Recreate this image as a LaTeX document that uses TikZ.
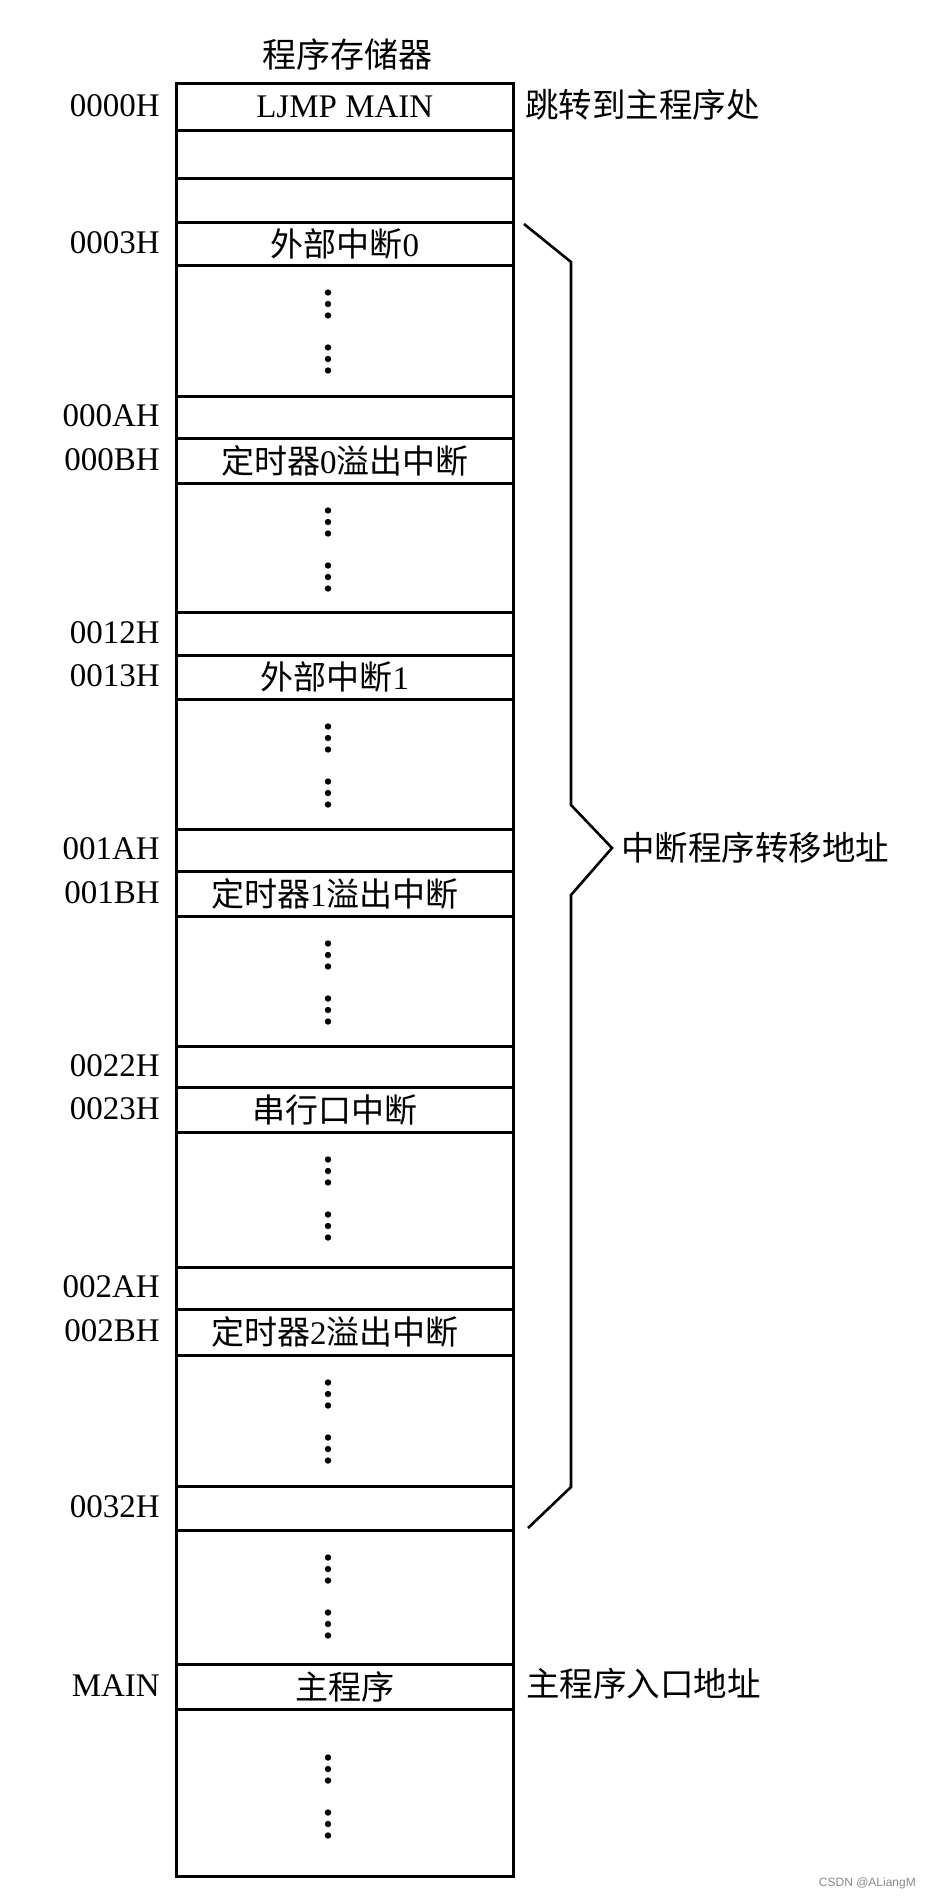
\documentclass[tikz,border=0pt]{standalone}
\usepackage{fontspec}
\setmainfont{Liberation Serif}
\newfontfamily\cjk{Noto Sans CJK SC}
\newfontfamily\wmfont{Liberation Sans}
\definecolor{wmgray}{HTML}{8A8A8A}
\newcommand\memcell[4]{%
  \node[cell, minimum height={#3-#2}] (#1) at (175,#2) {#4};%
}
\newcommand\dotgrp[2]{%
  \foreach \dd in {-11.5,0,11.5} {\fill (#1,#2+\dd) circle (3.2);}%
}
\begin{document}
\begin{tikzpicture}[x=1pt,y=-1pt,
  cell/.style={draw=black, line width=2.6pt, rectangle, inner sep=0pt,
    minimum width=337pt, anchor=north west, font=\fontsize{33}{40}\selectfont},
  addr/.style={anchor=east, inner sep=0pt, font=\fontsize{33}{40}\selectfont},
  note/.style={anchor=west, inner sep=0pt, font=\fontsize{33.5}{40}\selectfont\cjk},
  bracepath/.style={draw=black, line width=2.6pt, line join=miter},
]
\useasboundingbox (0,0) rectangle (930,1900);
\fill[white] (0,0) rectangle (930,1900);

% title
\node[inner sep=0pt, font=\fontsize{34}{40}\selectfont\cjk] (title) at (347,55) {程序存储器};

% memory cells
\memcell{c0}{82}{129}{LJMP MAIN}
\memcell{c1}{129}{177}{}
\memcell{c2}{177}{221}{}
\memcell{c3}{221}{264}{{\cjk 外部中断}0}
\memcell{c4}{264}{395}{}
\memcell{c5}{395}{437}{}
\memcell{c6}{437}{482}{{\cjk 定时器}0{\cjk 溢出中断}}
\memcell{c7}{482}{611}{}
\memcell{c8}{611}{654}{}
\memcell{c9}{654}{698}{{\cjk 外部中断}1\hspace*{20pt}}
\memcell{c10}{698}{828}{}
\memcell{c11}{828}{870}{}
\memcell{c12}{870}{915}{{\cjk 定时器}1{\cjk 溢出中断}\hspace*{20pt}}
\memcell{c13}{915}{1045}{}
\memcell{c14}{1045}{1086}{}
\memcell{c15}{1086}{1131}{{\cjk 串行口中断}\hspace*{20pt}}
\memcell{c16}{1131}{1266}{}
\memcell{c17}{1266}{1308}{}
\memcell{c18}{1308}{1354}{{\cjk 定时器}2{\cjk 溢出中断}\hspace*{20pt}}
\memcell{c19}{1354}{1485}{}
\memcell{c20}{1485}{1529}{}
\memcell{c21}{1529}{1663}{}
\memcell{c22}{1663}{1708}{{\cjk 主程序}}
\memcell{c23}{1708}{1875}{}

% vertical dots
\dotgrp{328}{304}\dotgrp{328}{359}
\dotgrp{328}{522}\dotgrp{328}{577}
\dotgrp{328}{738}\dotgrp{328}{793}
\dotgrp{328}{955}\dotgrp{328}{1010}
\dotgrp{328}{1171}\dotgrp{328}{1226}
\dotgrp{328}{1394}\dotgrp{328}{1449}
\dotgrp{328}{1569}\dotgrp{328}{1624}
\dotgrp{328}{1769}\dotgrp{328}{1824}

% address labels
\node[addr] (l0) at (160,105.5) {0000H};
\node[addr] (l3) at (160,242.5) {0003H};
\node[addr] (l5) at (160,416) {000AH};
\node[addr] (l6) at (160,459.5) {000BH};
\node[addr] (l8) at (160,632.5) {0012H};
\node[addr] (l9) at (160,676) {0013H};
\node[addr] (l11) at (160,849) {001AH};
\node[addr] (l12) at (160,892.5) {001BH};
\node[addr] (l14) at (160,1065.5) {0022H};
\node[addr] (l15) at (160,1108.5) {0023H};
\node[addr] (l17) at (160,1287) {002AH};
\node[addr] (l18) at (160,1331) {002BH};
\node[addr] (l20) at (160,1507) {0032H};
\node[addr] (l22) at (160,1685.5) {MAIN};

% notes on the right
\node[note] (n0) at (525,105) {跳转到主程序处};
\node[note] (n1) at (621,848) {中断程序转移地址};
\node[note] (n2) at (526,1684) {主程序入口地址};

% brace
\coordinate (b1) at (524,224);
\coordinate (b2) at (571,262);
\coordinate (b3) at (571,805);
\coordinate (b4) at (612,848);
\coordinate (b5) at (571,895);
\coordinate (b6) at (571,1487);
\coordinate (b7) at (528,1528);
\draw[bracepath] (b1) -- (b2) -- (b3) -- (b4) -- (b5) -- (b6) -- (b7);

% watermark
\node[anchor=east, inner sep=0pt, text=wmgray, font=\fontsize{12}{14}\selectfont\wmfont] (wm) at (916,1883) {CSDN @ALiangM};
\end{tikzpicture}
\end{document}
